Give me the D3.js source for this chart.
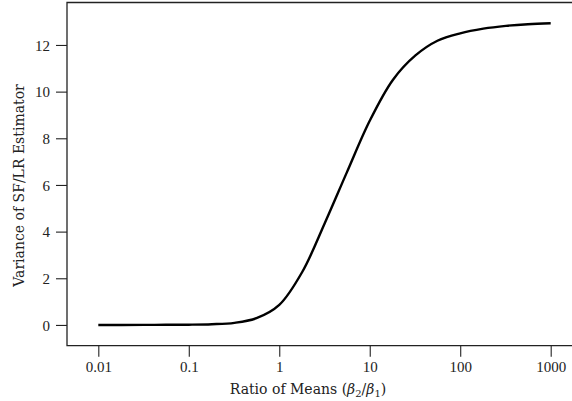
<!DOCTYPE html>
<html>
<head>
<meta charset="utf-8">
<script src="https://cdn.jsdelivr.net/npm/d3@7"></script>
<style>
  html, body { margin: 0; padding: 0; background: #fff; }
  svg text { fill: #222; }
  .tick text { font-family: "Liberation Serif", "DejaVu Serif", serif; }
  .title { font-family: "DejaVu Serif", "Liberation Serif", serif; }
</style>
</head>
<body>
<svg id="chart" width="572" height="401"></svg>
<script>
// Ratio of means (beta2 / beta1) and the variance of the SF/LR estimator
const ratios = [0.01, 0.018, 0.032, 0.056, 0.1, 0.18, 0.32, 0.56, 1, 1.8, 3.2, 5.6, 10, 18, 32, 56, 100, 180, 320, 560, 1000];
const variances = [0.0, 0.0, 0.002, 0.005, 0.01, 0.03, 0.09, 0.29, 0.86, 2.28, 4.38, 6.55, 8.75, 10.5, 11.55, 12.18, 12.5, 12.7, 12.82, 12.89, 12.93];

const xTicks = [0.01, 0.1, 1, 10, 100, 1000];
const xTickLabels = ["0.01", "0.1", "1", "10", "100", "1000"];
const yTicks = [0, 2, 4, 6, 8, 10, 12];

const svg = d3.select("#chart");
const plotLeft = 67, plotRight = 582, plotTop = 2.5, plotBottom = 345.7;
const tickFs = 15, titleFs = 14;

const x = d3.scaleLog().domain([10 ** -2.346, 10 ** 3.346]).range([plotLeft, plotRight]);
const y = d3.scaleLinear().domain([-0.89, 13.82]).range([plotBottom, plotTop]);

// plot frame: top, left and bottom edges
svg.append("path")
  .attr("d", `M${plotRight},${plotTop}H${plotLeft}V${plotBottom}H${plotRight}`)
  .attr("fill", "none").attr("stroke", "#222").attr("stroke-width", 1.3);

// y axis
const yAxis = svg.append("g").attr("transform", `translate(${plotLeft},0)`)
  .call(d3.axisLeft(y).tickValues(yTicks).tickSize(11).tickPadding(6).tickFormat(d3.format("d")));
yAxis.select(".domain").remove();
yAxis.selectAll(".tick line").attr("stroke", "#222").attr("stroke-width", 1.1);
yAxis.selectAll(".tick text").attr("font-size", tickFs).attr("fill", "#222").attr("dy", "0.34em");

// x axis
const xAxis = svg.append("g").attr("transform", `translate(0,${plotBottom})`)
  .call(d3.axisBottom(x).tickValues(xTicks).tickSize(11)
    .tickFormat((d, i) => xTickLabels[i]));
xAxis.select(".domain").remove();
xAxis.selectAll(".tick line").attr("stroke", "#222").attr("stroke-width", 1.1);
xAxis.selectAll(".tick text").attr("font-size", tickFs).attr("fill", "#222")
  .attr("y", 26).attr("dy", 0);

// curve
const line = d3.line()
  .x((d, i) => x(ratios[i]))
  .y(d => y(d))
  .curve(d3.curveCatmullRom.alpha(0.5));
svg.append("path")
  .attr("d", line(variances))
  .attr("fill", "none").attr("stroke", "#000").attr("stroke-width", 2.4)
  .attr("stroke-linejoin", "round").attr("stroke-linecap", "butt");

// axis titles
const xt = svg.append("text").attr("class", "title").attr("x", 308).attr("y", 394)
  .attr("text-anchor", "middle").attr("font-size", titleFs);
xt.append("tspan").text("Ratio of Means (");
xt.append("tspan").attr("font-style", "italic").text("β");
xt.append("tspan").attr("font-size", 10).attr("dy", 3).text("2");
xt.append("tspan").attr("dy", -3).text("/");
xt.append("tspan").attr("font-style", "italic").text("β");
xt.append("tspan").attr("font-size", 10).attr("dy", 3).text("1");
xt.append("tspan").attr("dy", -3).text(")");

svg.append("text").attr("class", "title")
  .attr("transform", "translate(24,185.5) rotate(-90)")
  .attr("text-anchor", "middle").attr("font-size", titleFs)
  .text("Variance of SF/LR Estimator");
</script>
</body>
</html>
